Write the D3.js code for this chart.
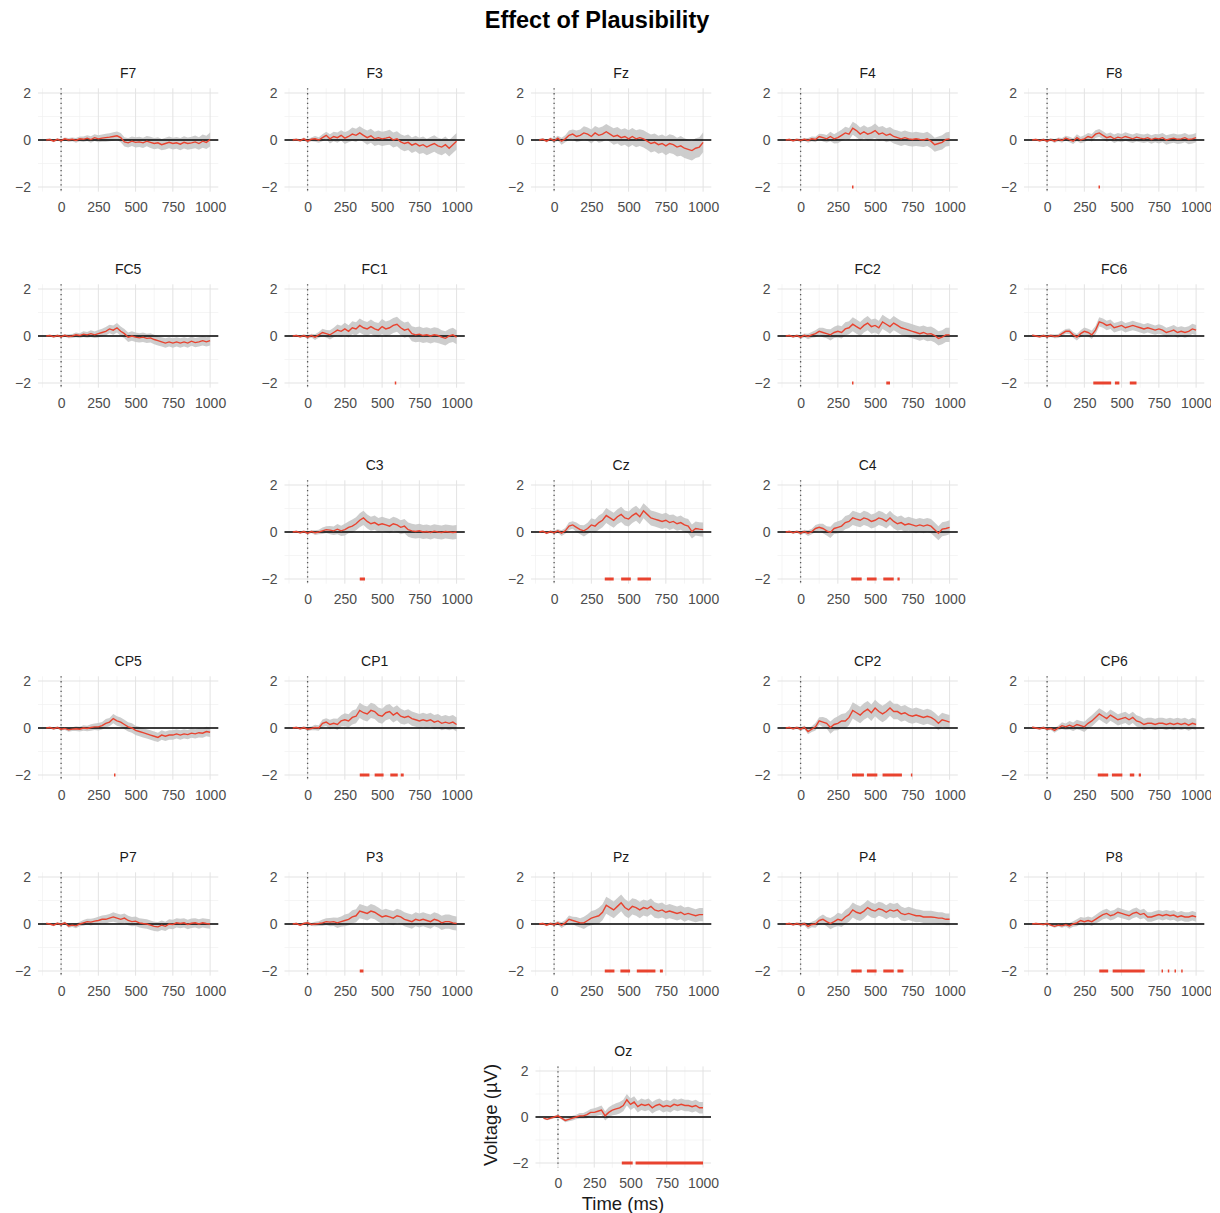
<!DOCTYPE html>
<html>
<head>
<meta charset="utf-8">
<script src="https://cdn.jsdelivr.net/npm/d3@7"></script>
<style>
  body { margin: 0; background: #fff; }
  text { font-family: "Liberation Sans", Arial, sans-serif; }
</style>
</head>
<body>
<div id="chart"></div>
<script>
// time points (ms) for the mean waveforms, ci is given every 50 ms
var times = d3.range(-100, 1001, 25)
var ciTimes = d3.range(-100, 1001, 50)
var xTicks = [0, 250, 500, 750, 1000]
var yTicks = [-2, 0, 2]

// scalp layout, 5 columns x 6 rows, '' = empty cell
var layout = [
    ['F7', 'F3', 'Fz', 'F4', 'F8'],
    ['FC5', 'FC1', '', 'FC2', 'FC6'],
    ['', 'C3', 'Cz', 'C4', ''],
    ['CP5', 'CP1', '', 'CP2', 'CP6'],
    ['P7', 'P3', 'Pz', 'P4', 'P8'],
    ['', '', 'Oz', '', '']
]

// mean difference waves (µV)
var F7 = [0,0.02,-0.05,0.03,-0.03,0.05,0,0.03,-0.02,0.05,0.03,0.08,0.02,0.1,0.05,0.08,0.1,0.12,0.15,0.18,0.1,-0.08,-0.12,-0.05,-0.1,-0.08,-0.12,-0.05,-0.1,-0.15,-0.12,-0.2,-0.15,-0.1,-0.15,-0.12,-0.18,-0.1,-0.15,-0.12,-0.08,-0.15,-0.05,-0.1,0.02]
var F3 = [0,0.02,-0.03,0.05,-0.05,0.03,0.05,0,0.1,0.2,0.05,0.15,0.1,0.2,0.08,0.15,0.25,0.2,0.3,0.2,0.1,0.18,0.05,0.1,0.05,0.08,0.12,0,0.05,-0.08,-0.15,-0.1,-0.22,-0.15,-0.25,-0.2,-0.3,-0.22,-0.15,-0.25,-0.3,-0.2,-0.35,-0.2,-0.05]
var Fz = [0,0.03,-0.05,0.05,-0.03,0.08,-0.05,0.05,0.2,0.25,0.15,0.2,0.3,0.25,0.15,0.3,0.2,0.25,0.35,0.25,0.15,0.2,0.1,0.15,0.05,0.15,0.05,0.1,0.05,-0.05,-0.15,-0.1,-0.2,-0.15,-0.25,-0.15,-0.2,-0.3,-0.25,-0.35,-0.4,-0.45,-0.35,-0.3,-0.1]
var F4 = [0,0.02,-0.03,0.02,-0.02,0.03,-0.02,0.05,0.02,0.15,0.1,0.05,0.15,0.05,0.1,0.2,0.3,0.25,0.5,0.4,0.25,0.35,0.25,0.3,0.4,0.25,0.3,0.2,0.25,0.15,0.1,0.05,0.1,0.05,0.02,0.05,0.02,0,0.05,-0.05,-0.2,-0.15,-0.1,0.02,0.05]
var F8 = [0,0.02,-0.03,0.02,-0.05,0.02,-0.05,0.03,-0.02,0.08,0.02,-0.05,0.1,0,0.05,0.15,0.1,0.25,0.3,0.2,0.1,0.15,0.05,0.12,0.08,0.15,0.1,0.05,0.12,0.08,0.05,0.1,0.02,0.08,0.05,0.1,0,0.05,0.08,0.03,0.05,0.1,0.02,0.05,0.1]
var FC5 = [0,0.02,-0.03,0.02,-0.03,0.03,-0.02,0,0.05,0.02,0.08,0.05,0.1,0.05,0.1,0.15,0.2,0.3,0.25,0.35,0.2,0.1,-0.05,0,-0.05,-0.08,-0.05,-0.1,-0.08,-0.15,-0.2,-0.25,-0.3,-0.25,-0.3,-0.25,-0.3,-0.25,-0.3,-0.22,-0.28,-0.25,-0.2,-0.25,-0.2]
var FC1 = [0,0.02,-0.03,0.02,-0.05,0.02,-0.05,0.05,0.15,0.1,0.05,0.15,0.25,0.2,0.3,0.2,0.35,0.3,0.45,0.35,0.3,0.4,0.3,0.25,0.4,0.3,0.35,0.45,0.5,0.35,0.25,0.3,0.1,0.05,0.08,0.02,0.05,0,0.05,0.02,-0.05,-0.1,0,0.05,-0.05]
var FC2 = [0,0.02,-0.03,0.02,-0.05,0.03,-0.02,0.05,0.1,0.2,0.15,0.1,0.05,0.15,0.2,0.15,0.3,0.35,0.5,0.4,0.3,0.45,0.55,0.4,0.45,0.35,0.6,0.5,0.4,0.55,0.45,0.35,0.3,0.25,0.2,0.15,0.1,0.15,0.08,0.1,0.02,-0.1,-0.05,0.05,0.05]
var FC6 = [0.03,0,-0.03,0.02,-0.03,0.02,-0.02,0,0.1,0.2,0.2,0.05,-0.05,0.1,0.2,0.15,0.05,0.25,0.6,0.55,0.45,0.5,0.35,0.4,0.45,0.35,0.4,0.45,0.4,0.35,0.3,0.35,0.3,0.25,0.3,0.25,0.15,0.2,0.25,0.15,0.2,0.15,0.2,0.3,0.25]
var C3 = [0,0.02,-0.03,0.02,-0.05,0.02,-0.03,0,0.05,0.1,0.08,0.05,0.12,0.05,0.1,0.2,0.25,0.35,0.5,0.6,0.45,0.35,0.4,0.3,0.35,0.3,0.25,0.35,0.3,0.2,0.25,0.1,0.05,0.02,0.05,0,0.02,-0.02,0.03,0,-0.02,0.02,0,-0.02,0]
var Cz = [0,0.03,-0.05,0.02,-0.03,0.05,-0.05,0.05,0.25,0.3,0.2,0.1,0.05,0.15,0.3,0.25,0.4,0.5,0.7,0.6,0.5,0.65,0.75,0.6,0.55,0.7,0.8,0.65,0.9,0.75,0.6,0.55,0.5,0.45,0.5,0.4,0.45,0.35,0.4,0.3,0.25,0.02,0.15,0.12,0.1]
var C4 = [0,0.02,-0.03,0.02,-0.05,0.02,-0.05,0.02,0.15,0.2,0.15,0.05,-0.02,0.15,0.2,0.25,0.4,0.45,0.6,0.55,0.5,0.6,0.55,0.45,0.5,0.6,0.55,0.45,0.6,0.45,0.35,0.4,0.3,0.35,0.3,0.25,0.3,0.25,0.3,0.25,0.1,-0.05,0.12,0.15,0.2]
var CP5 = [0,0.02,-0.03,0.02,-0.05,-0.02,-0.08,-0.05,-0.03,-0.05,0,-0.02,0.02,0.05,0.05,0.1,0.2,0.25,0.4,0.3,0.25,0.15,0.05,0,-0.1,-0.15,-0.2,-0.25,-0.3,-0.35,-0.4,-0.3,-0.35,-0.3,-0.3,-0.25,-0.3,-0.25,-0.28,-0.22,-0.25,-0.2,-0.22,-0.15,-0.18]
var CP1 = [0,0.02,-0.03,0.02,-0.05,-0.02,0.02,0,0.2,0.25,0.15,0.2,0.15,0.3,0.35,0.3,0.45,0.5,0.75,0.65,0.6,0.75,0.7,0.55,0.5,0.65,0.7,0.55,0.65,0.5,0.45,0.5,0.4,0.35,0.3,0.35,0.3,0.35,0.25,0.3,0.2,0.25,0.2,0.25,0.15]
var CP2 = [0,0.02,-0.03,0.02,-0.05,0.03,-0.15,-0.05,0.05,0.3,0.25,0.2,0.02,0.15,0.2,0.3,0.3,0.45,0.75,0.65,0.55,0.7,0.8,0.65,0.85,0.7,0.6,0.7,0.85,0.7,0.7,0.6,0.65,0.55,0.5,0.55,0.5,0.45,0.5,0.45,0.35,0.2,0.35,0.3,0.25]
var CP6 = [0.03,0,-0.03,0.02,-0.05,-0.02,-0.1,0,0.1,0.05,0.12,0.05,0.15,0.1,0.05,0.2,0.3,0.45,0.6,0.5,0.4,0.55,0.45,0.35,0.4,0.45,0.35,0.45,0.3,0.25,0.15,0.2,0.2,0.15,0.2,0.2,0.15,0.2,0.15,0.2,0.15,0.2,0.12,0.2,0.15]
var P7 = [0.02,0,-0.05,0.03,-0.02,0.05,-0.08,-0.05,-0.08,0,0.05,0.1,0.08,0.12,0.15,0.2,0.2,0.25,0.3,0.25,0.2,0.25,0.15,0.1,0.12,0.05,0.02,0,-0.05,-0.1,-0.12,-0.05,-0.1,0,-0.02,0.05,0.02,0.05,-0.02,0.03,0.05,0,0.05,0.02,0]
var P3 = [0,0.02,-0.05,0.02,0.05,-0.02,0,0.02,0.05,0.1,0.08,0.1,0.05,0.1,0.15,0.2,0.3,0.35,0.55,0.5,0.45,0.55,0.5,0.4,0.3,0.35,0.3,0.25,0.35,0.3,0.2,0.15,0.1,0.2,0.15,0.2,0.15,0.1,0.2,0.15,0.05,0.1,0.1,0.05,0.02]
var Pz = [0,0.02,-0.05,0.02,-0.03,0.05,-0.05,0.05,0.2,0.15,0.1,0.05,0.05,0.15,0.25,0.3,0.35,0.5,0.8,0.7,0.6,0.75,0.9,0.7,0.6,0.75,0.7,0.6,0.7,0.65,0.75,0.6,0.55,0.6,0.5,0.55,0.5,0.45,0.5,0.4,0.45,0.4,0.35,0.4,0.4]
var P4 = [0,0.02,-0.03,0.02,-0.03,0.02,-0.1,-0.02,0,0.15,0.2,0.1,0.02,0.1,0.2,0.15,0.3,0.4,0.6,0.5,0.45,0.55,0.7,0.6,0.55,0.65,0.6,0.5,0.6,0.55,0.6,0.45,0.4,0.45,0.4,0.35,0.35,0.3,0.3,0.3,0.28,0.25,0.25,0.2,0.2]
var P8 = [0,0.02,0,-0.02,0.02,-0.05,-0.1,-0.05,-0.08,-0.03,-0.08,0,0.05,0.15,0.1,0.15,0.1,0.2,0.3,0.4,0.45,0.35,0.4,0.5,0.45,0.4,0.35,0.45,0.5,0.4,0.45,0.3,0.3,0.35,0.4,0.35,0.4,0.35,0.38,0.3,0.35,0.3,0.3,0.35,0.3]
var Oz = [-0.05,-0.1,-0.05,0,0.05,-0.05,-0.15,-0.1,-0.05,0,0.05,0.05,0.1,0.2,0.2,0.25,0.3,0.05,0.2,0.3,0.35,0.4,0.5,0.75,0.55,0.65,0.45,0.55,0.5,0.55,0.4,0.5,0.55,0.45,0.5,0.45,0.55,0.5,0.55,0.5,0.5,0.45,0.5,0.4,0.4]

// half width of the grey band, every 50 ms
var ciF7 = [0.05,0.05,0.06,0.08,0.1,0.12,0.14,0.15,0.17,0.18,0.2,0.2,0.22,0.22,0.24,0.24,0.25,0.25,0.26,0.26,0.27,0.28,0.3]
var ciF3 = [0.05,0.06,0.08,0.12,0.15,0.2,0.22,0.25,0.28,0.28,0.3,0.3,0.3,0.32,0.32,0.33,0.33,0.35,0.35,0.35,0.35,0.35,0.35]
var ciFz = [0.05,0.06,0.1,0.15,0.2,0.25,0.28,0.3,0.32,0.33,0.35,0.35,0.36,0.36,0.37,0.38,0.38,0.4,0.4,0.42,0.42,0.42,0.42]
var ciF4 = [0.04,0.05,0.06,0.1,0.12,0.16,0.2,0.24,0.26,0.28,0.28,0.28,0.3,0.3,0.3,0.3,0.3,0.3,0.3,0.3,0.3,0.3,0.3]
var ciF8 = [0.04,0.05,0.06,0.08,0.1,0.12,0.14,0.15,0.16,0.17,0.17,0.18,0.18,0.18,0.18,0.18,0.18,0.2,0.2,0.2,0.2,0.2,0.2]
var ciFC5 = [0.04,0.05,0.06,0.08,0.1,0.12,0.14,0.16,0.18,0.2,0.2,0.2,0.2,0.2,0.2,0.2,0.2,0.2,0.2,0.2,0.2,0.2,0.2]
var ciFC1 = [0.04,0.05,0.08,0.12,0.16,0.2,0.24,0.26,0.28,0.3,0.3,0.3,0.32,0.32,0.32,0.32,0.32,0.32,0.32,0.32,0.3,0.3,0.3]
var ciFC2 = [0.04,0.05,0.08,0.12,0.15,0.2,0.24,0.26,0.28,0.3,0.3,0.3,0.3,0.3,0.3,0.3,0.3,0.3,0.3,0.3,0.3,0.3,0.3]
var ciFC6 = [0.04,0.05,0.06,0.08,0.1,0.12,0.14,0.16,0.18,0.2,0.2,0.2,0.2,0.2,0.2,0.2,0.2,0.2,0.2,0.22,0.22,0.22,0.22]
var ciC3 = [0.04,0.05,0.06,0.1,0.14,0.18,0.22,0.25,0.28,0.3,0.3,0.3,0.3,0.3,0.3,0.3,0.3,0.3,0.3,0.3,0.3,0.3,0.3]
var ciCz = [0.04,0.05,0.08,0.12,0.16,0.2,0.24,0.28,0.3,0.32,0.32,0.32,0.32,0.32,0.32,0.32,0.32,0.32,0.3,0.3,0.3,0.3,0.3]
var ciC4 = [0.04,0.05,0.08,0.12,0.15,0.2,0.24,0.26,0.28,0.3,0.3,0.3,0.3,0.3,0.3,0.3,0.3,0.3,0.3,0.3,0.3,0.3,0.3]
var ciCP5 = [0.04,0.05,0.06,0.08,0.1,0.12,0.14,0.16,0.18,0.2,0.2,0.2,0.2,0.2,0.2,0.2,0.2,0.2,0.2,0.2,0.2,0.2,0.2]
var ciCP1 = [0.04,0.05,0.08,0.12,0.16,0.2,0.24,0.28,0.3,0.32,0.32,0.32,0.32,0.32,0.32,0.3,0.3,0.3,0.3,0.3,0.3,0.3,0.3]
var ciCP2 = [0.04,0.05,0.08,0.12,0.16,0.22,0.26,0.3,0.33,0.35,0.35,0.35,0.35,0.35,0.33,0.33,0.33,0.32,0.32,0.32,0.3,0.3,0.3]
var ciCP6 = [0.04,0.05,0.06,0.1,0.14,0.18,0.2,0.22,0.24,0.24,0.24,0.24,0.24,0.24,0.24,0.24,0.24,0.24,0.24,0.24,0.24,0.24,0.24]
var ciP7 = [0.04,0.05,0.06,0.08,0.1,0.12,0.14,0.16,0.18,0.2,0.2,0.2,0.2,0.2,0.2,0.2,0.2,0.2,0.2,0.2,0.2,0.2,0.2]
var ciP3 = [0.04,0.05,0.06,0.1,0.14,0.18,0.22,0.25,0.28,0.3,0.3,0.3,0.3,0.3,0.3,0.3,0.3,0.3,0.3,0.3,0.3,0.3,0.3]
var ciPz = [0.04,0.05,0.08,0.12,0.16,0.2,0.26,0.3,0.34,0.36,0.36,0.36,0.35,0.35,0.34,0.33,0.32,0.3,0.3,0.3,0.28,0.28,0.28]
var ciP4 = [0.04,0.05,0.08,0.12,0.16,0.2,0.24,0.28,0.3,0.32,0.32,0.32,0.3,0.3,0.3,0.3,0.28,0.28,0.26,0.26,0.25,0.25,0.25]
var ciP8 = [0.03,0.04,0.05,0.06,0.08,0.12,0.15,0.17,0.18,0.2,0.2,0.2,0.2,0.2,0.2,0.2,0.2,0.2,0.2,0.2,0.2,0.2,0.2]
var ciOz = [0.04,0.05,0.06,0.08,0.1,0.12,0.15,0.18,0.2,0.22,0.25,0.25,0.25,0.25,0.25,0.25,0.25,0.25,0.25,0.25,0.25,0.25,0.25]

// significant time windows [start, end] in ms
var sigF4 = [[345, 355]]
var sigF8 = [[345, 355]]
var sigFC1 = [[585, 595]]
var sigFC2 = [[345, 355], [575, 600]]
var sigFC6 = [[310, 430], [455, 485], [555, 600]]
var sigC3 = [[350, 385]]
var sigCz = [[340, 400], [450, 515], [560, 650]]
var sigC4 = [[340, 410], [445, 510], [555, 625], [650, 665]]
var sigCP5 = [[355, 365]]
var sigCP1 = [[350, 415], [450, 510], [555, 605], [625, 645]]
var sigCP2 = [[345, 425], [445, 515], [550, 680], [740, 750]]
var sigCP6 = [[340, 410], [435, 505], [555, 585], [615, 630]]
var sigP3 = [[350, 375]]
var sigPz = [[340, 405], [445, 510], [555, 680], [710, 730]]
var sigP4 = [[340, 410], [445, 510], [555, 625], [650, 690]]
var sigP8 = [[350, 410], [440, 655], [768, 778], [810, 820], [855, 865], [900, 910]]
var sigOz = [[440, 515], [535, 1000]]

var waves = {F7: F7, F3: F3, Fz: Fz, F4: F4, F8: F8, FC5: FC5, FC1: FC1, FC2: FC2, FC6: FC6,
    C3: C3, Cz: Cz, C4: C4, CP5: CP5, CP1: CP1, CP2: CP2, CP6: CP6,
    P7: P7, P3: P3, Pz: Pz, P4: P4, P8: P8, Oz: Oz}
var cis = {F7: ciF7, F3: ciF3, Fz: ciFz, F4: ciF4, F8: ciF8, FC5: ciFC5, FC1: ciFC1, FC2: ciFC2, FC6: ciFC6,
    C3: ciC3, Cz: ciCz, C4: ciC4, CP5: ciCP5, CP1: ciCP1, CP2: ciCP2, CP6: ciCP6,
    P7: ciP7, P3: ciP3, Pz: ciPz, P4: ciP4, P8: ciP8, Oz: ciOz}
var sigs = {F4: sigF4, F8: sigF8, FC1: sigFC1, FC2: sigFC2, FC6: sigFC6, C3: sigC3, Cz: sigCz, C4: sigC4,
    CP5: sigCP5, CP1: sigCP1, CP2: sigCP2, CP6: sigCP6, P3: sigP3, Pz: sigPz, P4: sigP4, P8: sigP8, Oz: sigOz}

var W = 1220, H = 1213
var red = '#e8432f'

var svg = d3.select('#chart').append('svg')
    .attr('width', W)
    .attr('height', H)

svg.append('defs').append('clipPath').attr('id', 'page')
    .append('rect').attr('width', 1211).attr('height', H)

var root = svg.append('g').attr('clip-path', 'url(#page)')

root.append('text')
    .attr('x', 597)
    .attr('y', 28)
    .attr('text-anchor', 'middle')
    .style('font-size', '23.5px')
    .style('font-weight', 'bold')
    .style('fill', '#000')
    .text('Effect of Plausibility')

var draw_panel = (name, left, top, pw, ph) => {
    var x = d3.scaleLinear().domain([-155, 1055]).range([left, left + pw])
    var y = d3.scaleLinear().domain([-2.2, 2.2]).range([top + ph, top])
    var g = root.append('g')

    // minor + major grid
    var minorX = [-125, 125, 375, 625, 875]
    g.selectAll('.mx').data(minorX).enter().append('line')
        .attr('x1', d => x(d)).attr('x2', d => x(d))
        .attr('y1', top).attr('y2', top + ph)
        .attr('stroke', '#f0f0f0').attr('stroke-width', 0.7)
    g.selectAll('.my').data([-1, 1]).enter().append('line')
        .attr('x1', left).attr('x2', left + pw)
        .attr('y1', d => y(d)).attr('y2', d => y(d))
        .attr('stroke', '#f0f0f0').attr('stroke-width', 0.7)
    g.selectAll('.gx').data(xTicks).enter().append('line')
        .attr('x1', d => x(d)).attr('x2', d => x(d))
        .attr('y1', top).attr('y2', top + ph)
        .attr('stroke', '#e3e3e3').attr('stroke-width', 1)
    g.selectAll('.gy').data(yTicks).enter().append('line')
        .attr('x1', left).attr('x2', left + pw)
        .attr('y1', d => y(d)).attr('y2', d => y(d))
        .attr('stroke', '#e3e3e3').attr('stroke-width', 1)

    // axes, text only (theme_minimal style)
    var xa = g.append('g').attr('transform', 'translate(0,' + (top + ph) + ')')
        .call(d3.axisBottom(x).tickValues(xTicks).tickSize(0).tickPadding(10)
            .tickFormat(d3.format('d')))
    var ya = g.append('g').attr('transform', 'translate(' + left + ',0)')
        .call(d3.axisLeft(y).tickValues(yTicks).tickSize(0).tickPadding(7)
            .tickFormat(d => d < 0 ? '\u2212' + Math.abs(d) : d))
    ;[xa, ya].forEach(a => {
        a.select('.domain').remove()
        a.selectAll('text').style('font-size', '14px').style('fill', '#4d4d4d')
            .style('font-family', '"Liberation Sans", Arial, sans-serif')
    })

    var vals = waves[name]
    var ci = cis[name]
    var pts = times.map((t, i) => ({t: t, v: vals[i], c: ci[Math.floor(i / 2)]}))

    g.append('path').datum(pts)
        .attr('d', d3.area().x(d => x(d.t)).y0(d => y(d.v - d.c)).y1(d => y(d.v + d.c)))
        .attr('fill', '#c4c4c4').attr('opacity', 0.85)

    g.append('line')
        .attr('x1', left).attr('x2', left + pw)
        .attr('y1', y(0)).attr('y2', y(0))
        .attr('stroke', '#000').attr('stroke-width', 1.7)

    g.append('line')
        .attr('x1', x(0)).attr('x2', x(0))
        .attr('y1', top).attr('y2', top + ph)
        .attr('stroke', '#555').attr('stroke-width', 1.3)
        .attr('stroke-dasharray', '1.3,3.5')

    g.append('path').datum(pts)
        .attr('d', d3.line().x(d => x(d.t)).y(d => y(d.v)))
        .attr('fill', 'none').attr('stroke', red).attr('stroke-width', 1.4)

    var s = sigs[name] || []
    g.selectAll('.sig').data(s).enter().append('line')
        .attr('x1', d => x(d[0])).attr('x2', d => x(d[1]))
        .attr('y1', y(-2)).attr('y2', y(-2))
        .attr('stroke', red).attr('stroke-width', 3)

    g.append('text')
        .attr('x', left + pw / 2)
        .attr('y', top - 10)
        .attr('text-anchor', 'middle')
        .style('font-size', '14px')
        .style('fill', '#1a1a1a')
        .text(name)

    return {x: x, y: y}
}

layout.forEach((row, r) => {
    row.forEach((name, c) => {
        if (!name) return
        if (r < 5) {
            draw_panel(name, 38 + 246.5 * c, 88.3 + 196 * r, 180.3, 103.4)
        } else {
            draw_panel(name, 535.5, 1066.4, 175.5, 101.2)
        }
    })
})

// axis titles, shown on the bottom panel only
root.append('text')
    .attr('x', 623)
    .attr('y', 1210)
    .attr('text-anchor', 'middle')
    .style('font-size', '18.5px')
    .style('fill', '#1a1a1a')
    .text('Time (ms)')

root.append('text')
    .attr('transform', 'translate(497,1115) rotate(-90)')
    .attr('text-anchor', 'middle')
    .style('font-size', '18.5px')
    .style('fill', '#1a1a1a')
    .text('Voltage (\u00b5V)')
</script>
</body>
</html>
